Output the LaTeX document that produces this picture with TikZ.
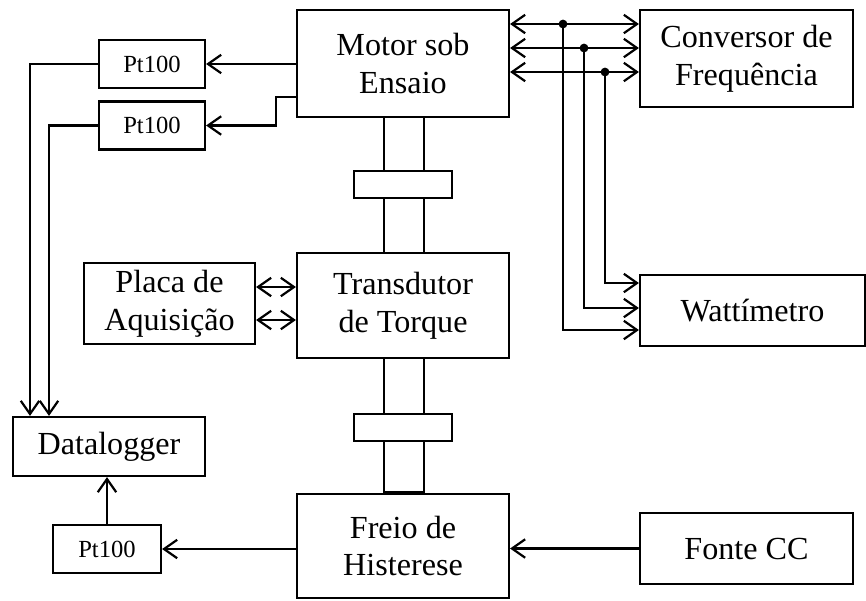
\documentclass[tikz,border=0pt]{standalone}
\usepackage{fontspec}
\setmainfont{Liberation Serif}
\usepackage{tikz}
\usetikzlibrary{positioning,arrows.meta}

\begin{document}
\begin{tikzpicture}[
  x=0.02cm, y=-0.02cm,
  line width=1.25pt,
  >={Straight Barb[length=7.5pt,width=10.5pt,line width=1.25pt]},
  blk/.style={draw, align=center, inner sep=0pt,
              font=\fontsize{18.3}{21.5}\selectfont},
  sens/.style={draw, inner sep=0pt, minimum width=2.12cm, minimum height=0.96cm,
               font=\fontsize{14}{16}\selectfont},
  cpl/.style={draw, inner sep=0pt, minimum width=1.96cm, minimum height=0.54cm},
  sig/.style={->},
  bus/.style={<->},
  dot/.style={circle, fill, inner sep=0pt, minimum size=5pt},
]
  \useasboundingbox (0,0) rectangle (866,600);

  % main blocks
  \node[blk, minimum width=4.24cm, minimum height=2.14cm] (motor) at (403,63.5) {Motor sob\\Ensaio};
  \node[blk, minimum width=4.26cm, minimum height=1.94cm] (conv) at (746.5,58.5) {Conversor de\\Frequência};
  \node[blk, minimum width=4.24cm, minimum height=2.10cm] (trans) at (403,305.5) {Transdutor\\de Torque};
  \node[blk, minimum width=3.42cm, minimum height=1.62cm] (placa) at (169.5,303.5) {Placa de\\Aquisição};
  \node[blk, minimum width=4.50cm, minimum height=1.42cm] (watt) at (752.5,310.5) {Wattímetro};
  \node[blk, minimum width=3.84cm, minimum height=1.18cm] (dlog) at (109,446.5) {Datalogger};
  \node[blk, minimum width=4.24cm, minimum height=2.08cm] (freio) at (403,546) {Freio de\\Histerese};
  \node[blk, minimum width=4.26cm, minimum height=1.42cm] (fonte) at (746.5,548.5) {Fonte CC};

  % temperature sensors
  \node[sens] (pta) at (152,64) {Pt100};
  \node[sens] (ptb) at (152,125.5) {Pt100};
  \node[sens, minimum width=2.16cm] (ptc) at (107,549) {Pt100};

  % couplings on the shaft
  \node[cpl] (cpa) at (403,184.5) {};
  \node[cpl] (cpb) at (403,427.5) {};

  % shaft
  \coordinate (sl) at (384,0);
  \coordinate (sr) at (424,0);
  \draw (motor.south -| sl) -- (cpa.north -| sl) (cpa.south -| sl) -- (trans.north -| sl);
  \draw (motor.south -| sr) -- (cpa.north -| sr) (cpa.south -| sr) -- (trans.north -| sr);
  \draw (trans.south -| sl) -- (cpb.north -| sl) (cpb.south -| sl) -- (freio.north -| sl);
  \draw (trans.south -| sr) -- (cpb.north -| sr) (cpb.south -| sr) -- (freio.north -| sr);
  \draw[line width=2.4pt] (freio.north -| sl) -- (freio.north -| sr);

  % supply lines motor <-> converter
  \coordinate (la) at (0,24);
  \coordinate (lb) at (0,48);
  \coordinate (lc) at (0,72);
  \coordinate (ta) at (563,0);
  \coordinate (tb) at (584,0);
  \coordinate (tc) at (605,0);
  \draw[bus] (motor.east |- la) -- (conv.west |- la);
  \draw[bus] (motor.east |- lb) -- (conv.west |- lb);
  \draw[bus] (motor.east |- lc) -- (conv.west |- lc);
  \node[dot] (da) at (ta |- la) {};
  \node[dot] (db) at (tb |- lb) {};
  \node[dot] (dc) at (tc |- lc) {};

  % taps to the wattmeter
  \coordinate (wa) at (0,330);
  \coordinate (wb) at (0,308);
  \coordinate (wc) at (0,283);
  \draw[sig] (da.center) |- (watt.west |- wa);
  \draw[sig] (db.center) |- (watt.west |- wb);
  \draw[sig] (dc.center) |- (watt.west |- wc);

  % acquisition board
  \coordinate (pa) at (0,287);
  \coordinate (pb) at (0,320);
  \draw[bus] (placa.east |- pa) -- (trans.west |- pa);
  \draw[bus] (placa.east |- pb) -- (trans.west |- pb);

  % temperatures to the datalogger
  \coordinate (ja) at (276,97);
  \coordinate (xa) at (30,0);
  \coordinate (xb) at (49,0);
  \draw[sig] (motor.west |- pta.east) -- (pta.east);
  \draw[sig] (motor.west |- ja) -- (ja) |- (ptb.east);
  \draw[sig] (pta.west) -| (xa |- dlog.north);
  \draw[sig] (ptb.west) -| (xb |- dlog.north);
  \draw[sig] (freio.west |- ptc.east) -- (ptc.east);
  \draw[sig] (ptc.north) -- (ptc.north |- dlog.south);

  % brake supply
  \draw[sig] (fonte.west) -- (freio.east |- fonte.west);
\end{tikzpicture}
\end{document}
